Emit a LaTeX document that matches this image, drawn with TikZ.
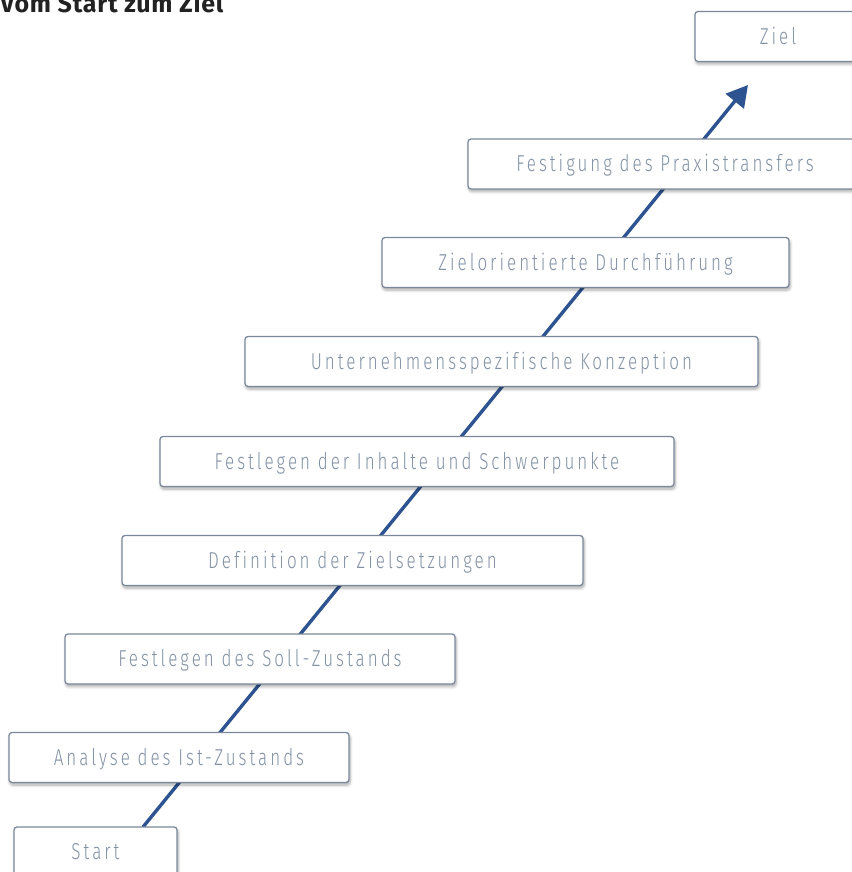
\documentclass[tikz,border=0pt]{standalone}
\usepackage{fontspec}
\setmainfont{Fira Sans}
\newfontfamily\stepfont{Fira Sans Light}[FakeStretch=0.74, LetterSpace=13, Ligatures=NoCommon]
\newfontfamily\headfont{Fira Sans}[LetterSpace=3]
\usetikzlibrary{arrows.meta,shadows.blur,positioning}
\definecolor{stepline}{HTML}{7B879A}
\definecolor{steptext}{HTML}{8391A4}
\definecolor{flowblue}{HTML}{2D5490}
\definecolor{headtext}{HTML}{222222}
\pgfdeclarelayer{background}
\pgfsetlayers{background,main}
\tikzset{
  stepbox/.style={draw=stepline, line width=1.3pt, fill=white, rounded corners=3pt,
    minimum height=50pt, inner sep=0pt, text=steptext,
    text height=15.8pt, text depth=0pt,
    font=\stepfont\fontsize{23}{26}\selectfont,
    blur shadow={shadow xshift=1pt, shadow yshift=-2.5pt, shadow blur steps=6,
      shadow blur radius=3pt, shadow opacity=35}},
  flow/.style={draw=flowblue, line width=3.4pt,
    -{Triangle[length=21pt, width=23pt]}}
}
\begin{document}
\begin{tikzpicture}[x=1pt, y=-1pt]
  \useasboundingbox (0,0) rectangle (851,872);
  \node[anchor=base west, inner sep=0pt, text=headtext,
        font=\headfont\bfseries\fontsize{25}{28}\selectfont] (title) at (0,12.5) {Vom Start zum Ziel};

  \node[stepbox, minimum width=166pt] (ziel)  at (778,36.5)   {Ziel};
  \node[stepbox, minimum width=394pt] (s7)    at (665,164)    {Festigung des Praxistransfers};
  \node[stepbox, minimum width=407pt] (s6)    at (585.5,262.5){Zielorientierte Durchführung};
  \node[stepbox, minimum width=513pt] (s5)    at (501.5,361.5){Unternehmensspezifische Konzeption};
  \node[stepbox, minimum width=514pt] (s4)    at (417,461.5)  {Festlegen der Inhalte und Schwerpunkte};
  \node[stepbox, minimum width=461pt] (s3)    at (352.5,560.5){Definition der Zielsetzungen};
  \node[stepbox, minimum width=390pt] (s2)    at (260,659)    {Festlegen des Soll-Zustands};
  \node[stepbox, minimum width=340pt] (s1)    at (179,757.5)  {Analyse des Ist-Zustands};
  \node[stepbox, minimum width=163pt] (start) at (95.5,852)   {Start};

  % one straight path climbing from Start towards Ziel, behind the boxes
  \coordinate (foot) at (143,827);
  \coordinate (tip)  at (748,85);
  \begin{pgfonlayer}{background}
    \draw[flow] (foot) -- (tip);
  \end{pgfonlayer}
\end{tikzpicture}
\end{document}
